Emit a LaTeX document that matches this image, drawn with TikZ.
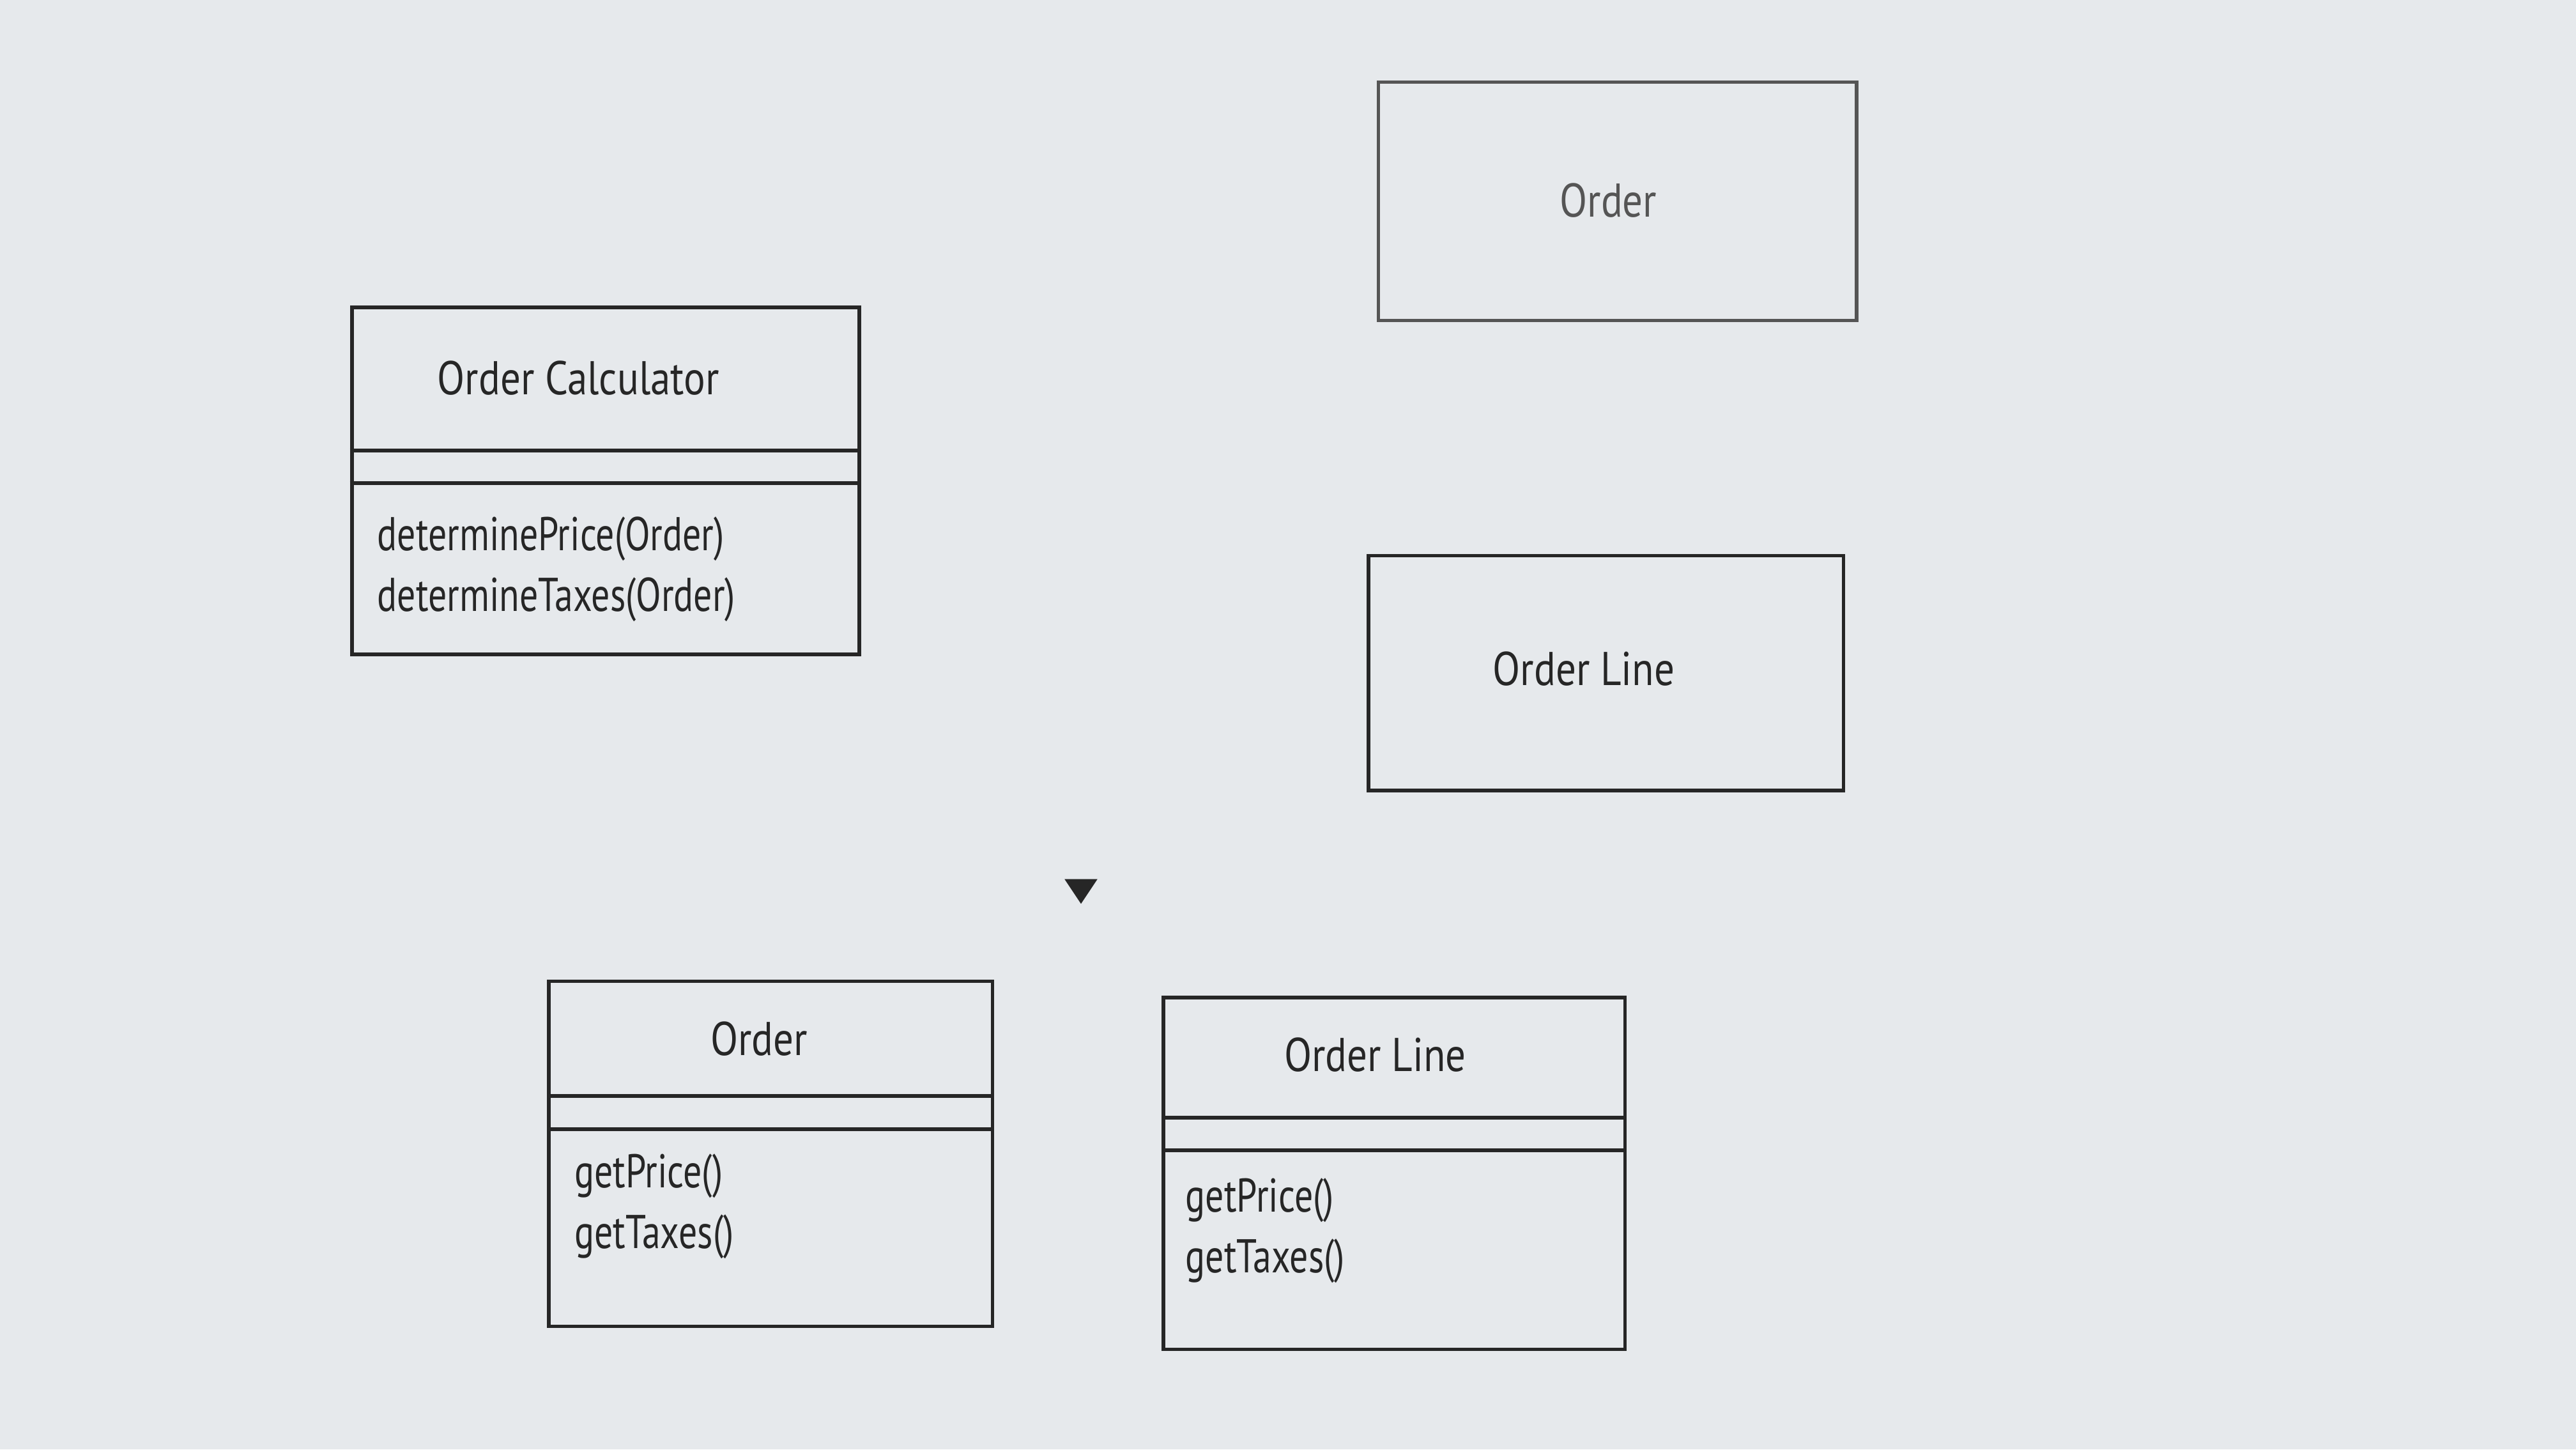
\documentclass[tikz,border=0pt]{standalone}
\usepackage{fontspec}
\setmainfont{PT Sans}[FakeStretch=0.85]
\newfontfamily\methfont{PT Sans}[FakeStretch=0.78]
\usetikzlibrary{calc}
\definecolor{paper}{HTML}{E6E9EC}
\definecolor{ink}{HTML}{262626}
\definecolor{faint}{HTML}{555555}
\begin{document}
\begin{tikzpicture}[x=1cm,y=1cm,
  box/.style={draw=ink, line width=0.65pt, rectangle, inner sep=0pt, anchor=north west},
  fbox/.style={box, draw=faint, line width=0.6pt},
  sepline/.style={draw=ink, line width=0.65pt},
  lbl/.style={text=ink, font=\fontsize{8.2}{10}\selectfont, inner sep=0pt},
  flbl/.style={lbl, text=faint},
  meth/.style={lbl, anchor=west, align=left, font=\methfont\fontsize{8.2}{10.5}\selectfont}]
\fill[paper] (0,0) rectangle (15.68,8.82);
\useasboundingbox (0,0) rectangle (15.68,8.82);

% Order Calculator class
\node[box, minimum width=3.09cm, minimum height=2.11cm] (oc) at (2.13,6.96) {};
\draw[sepline] ($(oc.north west)+(0,-0.88)$) -- ($(oc.north east)+(0,-0.88)$);
\draw[sepline] ($(oc.north west)+(0,-1.08)$) -- ($(oc.north east)+(0,-1.08)$);
\node[lbl] (ocname) at (3.52,6.52) {Order Calculator};
\node[meth] (ocmeth) at (2.29,5.355) {determinePrice(Order)\\determineTaxes(Order)};

% Order (plain box)
\node[fbox, minimum width=2.91cm, minimum height=1.45cm] (ord) at (8.38,8.33) {};
\node[flbl] (ordname) at (9.79,7.60) {Order};

% Order Line (plain box)
\node[box, minimum width=2.89cm, minimum height=1.43cm] (ol) at (8.32,5.45) {};
\node[lbl] (olname) at (9.64,4.75) {Order Line};

% triangle marker
\fill[ink] (6.48,3.47) -- (6.68,3.47) -- (6.58,3.32) -- cycle;

% Order class
\node[box, minimum width=2.70cm, minimum height=2.10cm] (oclass) at (3.33,2.86) {};
\draw[sepline] ($(oclass.north west)+(0,-0.71)$) -- ($(oclass.north east)+(0,-0.71)$);
\draw[sepline] ($(oclass.north west)+(0,-0.91)$) -- ($(oclass.north east)+(0,-0.91)$);
\node[lbl] (oclassname) at (4.62,2.50) {Order};
\node[meth] (oclassmeth) at (3.49,1.48) {getPrice()\\getTaxes()};

% Order Line class
\node[box, minimum width=2.81cm, minimum height=2.14cm] (olclass) at (7.07,2.76) {};
\draw[sepline] ($(olclass.north west)+(0,-0.74)$) -- ($(olclass.north east)+(0,-0.74)$);
\draw[sepline] ($(olclass.north west)+(0,-0.94)$) -- ($(olclass.north east)+(0,-0.94)$);
\node[lbl] (olclassname) at (8.37,2.40) {Order Line};
\node[meth] (olclassmeth) at (7.21,1.33) {getPrice()\\getTaxes()};
\end{tikzpicture}
\end{document}
